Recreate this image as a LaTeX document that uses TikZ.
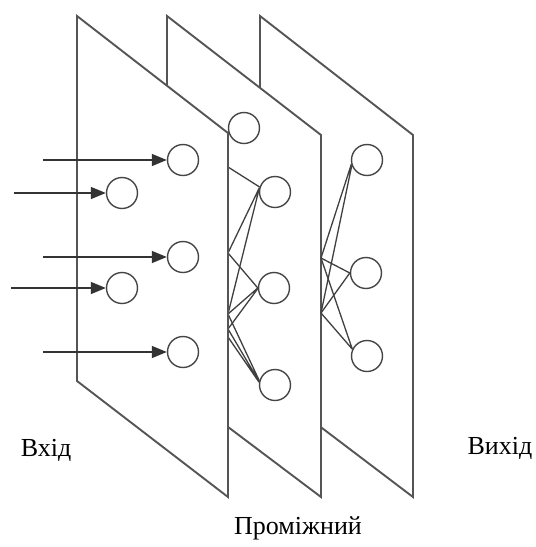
\documentclass[tikz,border=0pt]{standalone}
\usepackage{fontspec}
\setmainfont{Liberation Serif}
\usetikzlibrary{arrows.meta}
\definecolor{planecol}{HTML}{555555}
\definecolor{nodecol}{HTML}{454545}
\tikzset{
  plane/.style={draw=planecol, fill=white, line width=1.9pt, line join=miter},
  neuron/.style={circle, draw=nodecol, fill=white, line width=1.4pt, minimum size=31pt, inner sep=0pt},
  link/.style={draw=black!75, line width=1.3pt},
  inarrow/.style={draw=black!80, line width=1.5pt, -{Triangle[length=15pt,width=12pt]}},
  lbl/.style={font=\fontsize{26}{30}\selectfont, inner sep=0pt}
}
\begin{document}
\begin{tikzpicture}[x=1pt,y=-1pt]
\useasboundingbox (0,0) rectangle (536,547);
% plane 3 (back)
\draw[plane] (260,16) -- (413,135) -- (413,497) -- (260,381) -- cycle;
% plane 2
\draw[plane] (167,16) -- (321,135) -- (321,497) -- (167,381) -- cycle;
% output nodes
\node[neuron] (o1) at (367,160) {};
\node[neuron] (o2) at (366,273) {};
\node[neuron] (o3) at (367,356) {};
\coordinate (q1) at (321,258);
\coordinate (q2) at (321,313);
\draw[link] (q1) -- (o1.195) (q2) -- (o1.200);
\draw[link] (q1) -- (o2.180) (q2) -- (o2.180);
\draw[link] (q1) -- (o3.155) (q2) -- (o3.155);
% hidden nodes
\node[neuron] (h1) at (275,192) {};
\node[neuron] (h2) at (274,288) {};
\node[neuron] (h3) at (275,385) {};
\coordinate (p1) at (228,167);
\coordinate (p2) at (228,253);
\coordinate (p3) at (228,314);
\coordinate (p4) at (228,329);
\coordinate (p5) at (228,337);
\draw[link] (p1) -- (h1.162) (p2) -- (h1.165) (p3) -- (h1.170);
\draw[link] (p2) -- (h2.180) (p3) -- (h2.180) (p4) -- (h2.182);
\draw[link] (p3) -- (h3.165) (p4) -- (h3.168) (p5) -- (h3.170);
% plane 1 (front)
\draw[plane] (77,16) -- (228,133) -- (228,497) -- (77,381) -- cycle;
% input nodes
\node[neuron] (i1) at (183,160) {};
\node[neuron] (i2) at (122,193) {};
\node[neuron] (i3) at (183,257) {};
\node[neuron] (i4) at (122,288) {};
\node[neuron] (i5) at (183,352) {};
\coordinate (s1) at (43,160);
\coordinate (s2) at (14,193);
\coordinate (s3) at (43,257);
\coordinate (s4) at (11,288);
\coordinate (s5) at (43,352);
\draw[inarrow] (s1) -- (i1);
\draw[inarrow] (s2) -- (i2);
\draw[inarrow] (s3) -- (i3);
\draw[inarrow] (s4) -- (i4);
\draw[inarrow] (s5) -- (i5);
% top hidden node over the corner
\node[neuron] (h0) at (244,128) {};
% labels
\node[lbl] (lin) at (46,450) {Вхід};
\node[lbl] (lout) at (500,448) {Вихід};
\node[lbl] (lmid) at (298,528) {Проміжний};
\end{tikzpicture}
\end{document}
